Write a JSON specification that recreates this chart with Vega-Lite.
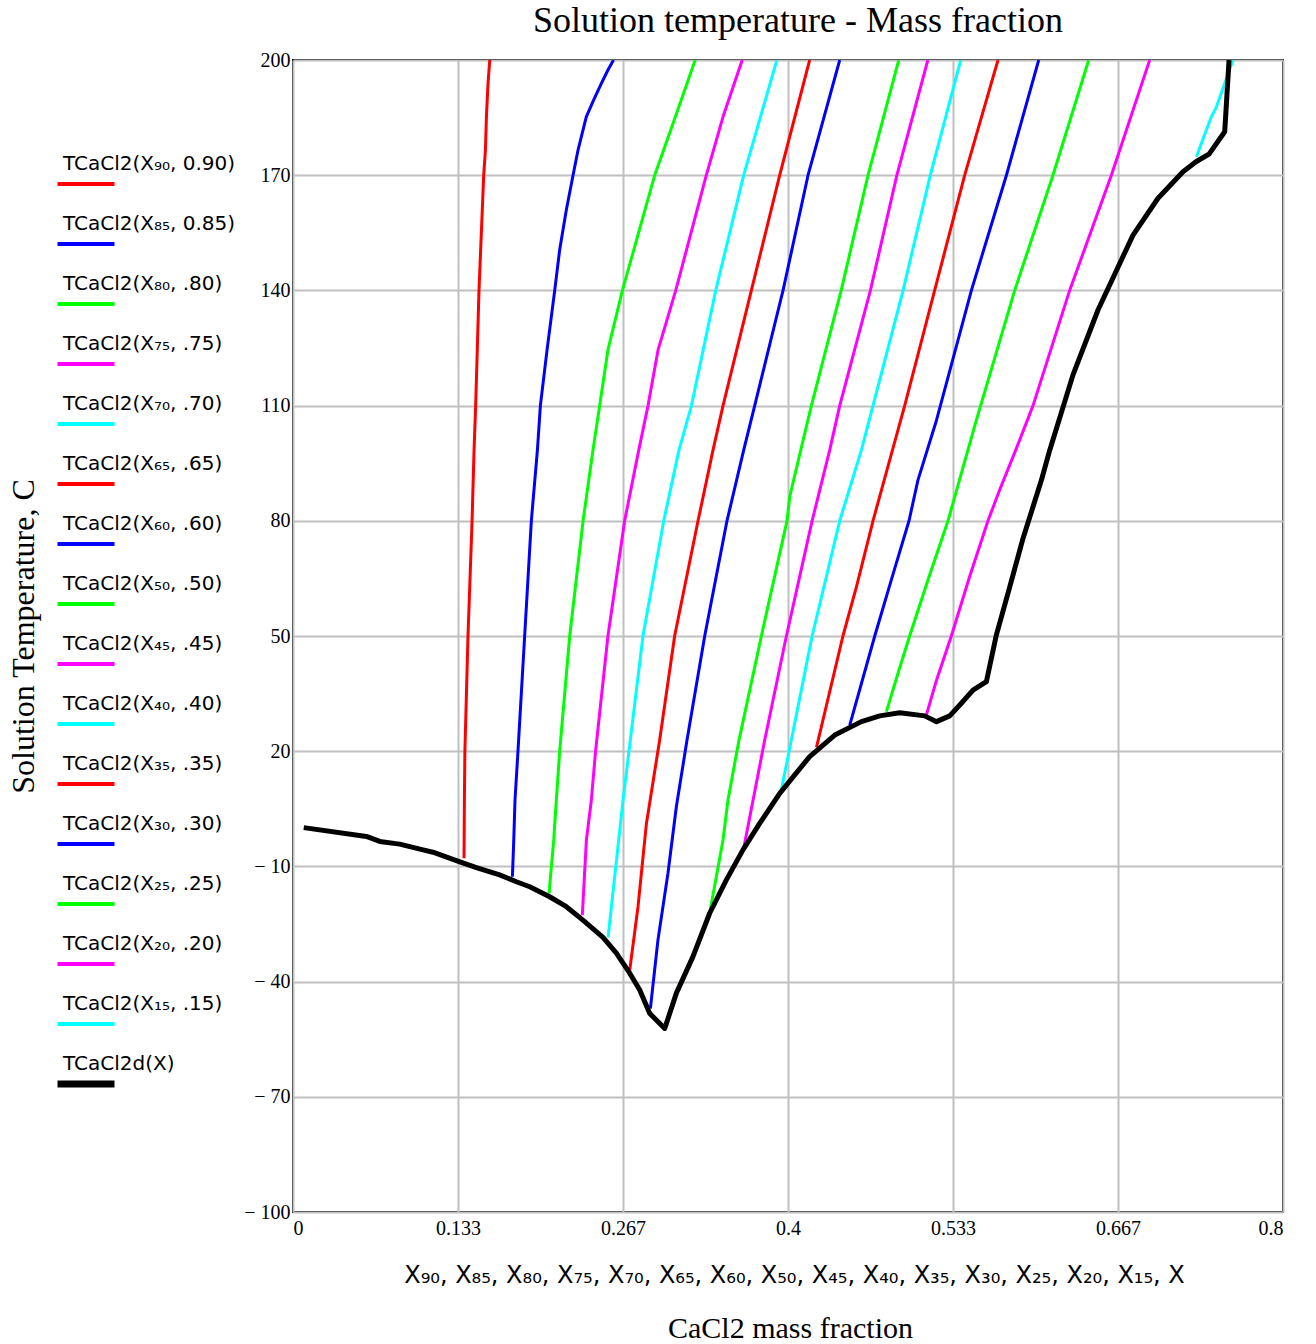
{
  "$schema": "https://vega.github.io/schema/vega-lite/v6.json",
  "width": 990,
  "height": 1152,
  "autosize": {"type": "none"},
  "padding": {"left": 293, "top": 60, "right": 33, "bottom": 132},
  "background": "white",
  "config": {
    "view": {"stroke": "black", "strokeWidth": 2},
    "axis": {"labelOverlap": false}
  },
  "title": {
    "text": "Solution temperature - Mass fraction",
    "font": "Liberation Serif",
    "fontSize": 36,
    "fontWeight": "normal",
    "color": "black",
    "anchor": "middle",
    "frame": "group",
    "baseline": "alphabetic",
    "offset": 29,
    "dx": 10,
    "dy": 47
  },
  "data": {
    "values": [
      {"curve": "TCaCl2(X₉₀, 0.90)", "x": 0.1382, "t": -7.9},
      {"curve": "TCaCl2(X₉₀, 0.90)", "x": 0.1385, "t": 7.3},
      {"curve": "TCaCl2(X₉₀, 0.90)", "x": 0.1389, "t": 20},
      {"curve": "TCaCl2(X₉₀, 0.90)", "x": 0.1414, "t": 50},
      {"curve": "TCaCl2(X₉₀, 0.90)", "x": 0.1447, "t": 80},
      {"curve": "TCaCl2(X₉₀, 0.90)", "x": 0.1463, "t": 98.4},
      {"curve": "TCaCl2(X₉₀, 0.90)", "x": 0.1476, "t": 110},
      {"curve": "TCaCl2(X₉₀, 0.90)", "x": 0.1503, "t": 140},
      {"curve": "TCaCl2(X₉₀, 0.90)", "x": 0.1541, "t": 170},
      {"curve": "TCaCl2(X₉₀, 0.90)", "x": 0.1555, "t": 176.6},
      {"curve": "TCaCl2(X₉₀, 0.90)", "x": 0.1563, "t": 185.2},
      {"curve": "TCaCl2(X₉₀, 0.90)", "x": 0.1576, "t": 193.9},
      {"curve": "TCaCl2(X₉₀, 0.90)", "x": 0.159, "t": 200},

      {"curve": "TCaCl2(X₈₅, 0.85)", "x": 0.1773, "t": -12.7},
      {"curve": "TCaCl2(X₈₅, 0.85)", "x": 0.1784, "t": -3.1},
      {"curve": "TCaCl2(X₈₅, 0.85)", "x": 0.1794, "t": 7.3},
      {"curve": "TCaCl2(X₈₅, 0.85)", "x": 0.1818, "t": 20},
      {"curve": "TCaCl2(X₈₅, 0.85)", "x": 0.1872, "t": 50},
      {"curve": "TCaCl2(X₈₅, 0.85)", "x": 0.1926, "t": 80},
      {"curve": "TCaCl2(X₈₅, 0.85)", "x": 0.1975, "t": 98.4},
      {"curve": "TCaCl2(X₈₅, 0.85)", "x": 0.1999, "t": 110},
      {"curve": "TCaCl2(X₈₅, 0.85)", "x": 0.2053, "t": 124.5},
      {"curve": "TCaCl2(X₈₅, 0.85)", "x": 0.2115, "t": 140},
      {"curve": "TCaCl2(X₈₅, 0.85)", "x": 0.2155, "t": 150.6},
      {"curve": "TCaCl2(X₈₅, 0.85)", "x": 0.2209, "t": 161},
      {"curve": "TCaCl2(X₈₅, 0.85)", "x": 0.2263, "t": 170},
      {"curve": "TCaCl2(X₈₅, 0.85)", "x": 0.2303, "t": 176.5},
      {"curve": "TCaCl2(X₈₅, 0.85)", "x": 0.237, "t": 185.2},
      {"curve": "TCaCl2(X₈₅, 0.85)", "x": 0.243, "t": 189.6},
      {"curve": "TCaCl2(X₈₅, 0.85)", "x": 0.2492, "t": 193.9},
      {"curve": "TCaCl2(X₈₅, 0.85)", "x": 0.2545, "t": 197.4},
      {"curve": "TCaCl2(X₈₅, 0.85)", "x": 0.259, "t": 200},

      {"curve": "TCaCl2(X₈₀, .80)", "x": 0.2069, "t": -17},
      {"curve": "TCaCl2(X₈₀, .80)", "x": 0.2107, "t": -3.1},
      {"curve": "TCaCl2(X₈₀, .80)", "x": 0.2128, "t": 7.3},
      {"curve": "TCaCl2(X₈₀, .80)", "x": 0.2155, "t": 20},
      {"curve": "TCaCl2(X₈₀, .80)", "x": 0.2236, "t": 50},
      {"curve": "TCaCl2(X₈₀, .80)", "x": 0.2344, "t": 80},
      {"curve": "TCaCl2(X₈₀, .80)", "x": 0.2424, "t": 98.4},
      {"curve": "TCaCl2(X₈₀, .80)", "x": 0.2478, "t": 110},
      {"curve": "TCaCl2(X₈₀, .80)", "x": 0.2545, "t": 124.5},
      {"curve": "TCaCl2(X₈₀, .80)", "x": 0.2662, "t": 140},
      {"curve": "TCaCl2(X₈₀, .80)", "x": 0.2923, "t": 170},
      {"curve": "TCaCl2(X₈₀, .80)", "x": 0.309, "t": 185.2},
      {"curve": "TCaCl2(X₈₀, .80)", "x": 0.325, "t": 200},

      {"curve": "TCaCl2(X₇₅, .75)", "x": 0.2338, "t": -22.7},
      {"curve": "TCaCl2(X₇₅, .75)", "x": 0.2371, "t": -3.1},
      {"curve": "TCaCl2(X₇₅, .75)", "x": 0.2411, "t": 7.3},
      {"curve": "TCaCl2(X₇₅, .75)", "x": 0.2445, "t": 20},
      {"curve": "TCaCl2(X₇₅, .75)", "x": 0.2545, "t": 50},
      {"curve": "TCaCl2(X₇₅, .75)", "x": 0.268, "t": 80},
      {"curve": "TCaCl2(X₇₅, .75)", "x": 0.2794, "t": 98.4},
      {"curve": "TCaCl2(X₇₅, .75)", "x": 0.2869, "t": 110},
      {"curve": "TCaCl2(X₇₅, .75)", "x": 0.295, "t": 124.5},
      {"curve": "TCaCl2(X₇₅, .75)", "x": 0.3093, "t": 140},
      {"curve": "TCaCl2(X₇₅, .75)", "x": 0.334, "t": 170},
      {"curve": "TCaCl2(X₇₅, .75)", "x": 0.3475, "t": 185.2},
      {"curve": "TCaCl2(X₇₅, .75)", "x": 0.363, "t": 200},

      {"curve": "TCaCl2(X₇₀, .70)", "x": 0.2546, "t": -28.5},
      {"curve": "TCaCl2(X₇₀, .70)", "x": 0.2632, "t": -3.1},
      {"curve": "TCaCl2(X₇₀, .70)", "x": 0.2667, "t": 7.3},
      {"curve": "TCaCl2(X₇₀, .70)", "x": 0.2726, "t": 22.9},
      {"curve": "TCaCl2(X₇₀, .70)", "x": 0.2828, "t": 50},
      {"curve": "TCaCl2(X₇₀, .70)", "x": 0.2996, "t": 80},
      {"curve": "TCaCl2(X₇₀, .70)", "x": 0.3119, "t": 98.4},
      {"curve": "TCaCl2(X₇₀, .70)", "x": 0.322, "t": 110},
      {"curve": "TCaCl2(X₇₀, .70)", "x": 0.3416, "t": 140},
      {"curve": "TCaCl2(X₇₀, .70)", "x": 0.3642, "t": 170},
      {"curve": "TCaCl2(X₇₀, .70)", "x": 0.391, "t": 200},

      {"curve": "TCaCl2(X₆₅, .65)", "x": 0.2721, "t": -37},
      {"curve": "TCaCl2(X₆₅, .65)", "x": 0.2788, "t": -20.5},
      {"curve": "TCaCl2(X₆₅, .65)", "x": 0.2856, "t": 1.2},
      {"curve": "TCaCl2(X₆₅, .65)", "x": 0.2963, "t": 22.9},
      {"curve": "TCaCl2(X₆₅, .65)", "x": 0.3084, "t": 50},
      {"curve": "TCaCl2(X₆₅, .65)", "x": 0.3273, "t": 80},
      {"curve": "TCaCl2(X₆₅, .65)", "x": 0.3394, "t": 98.4},
      {"curve": "TCaCl2(X₆₅, .65)", "x": 0.3475, "t": 110},
      {"curve": "TCaCl2(X₆₅, .65)", "x": 0.3704, "t": 140},
      {"curve": "TCaCl2(X₆₅, .65)", "x": 0.3933, "t": 170},
      {"curve": "TCaCl2(X₆₅, .65)", "x": 0.4175, "t": 200},

      {"curve": "TCaCl2(X₆₀, .60)", "x": 0.2888, "t": -47},
      {"curve": "TCaCl2(X₆₀, .60)", "x": 0.2949, "t": -29.2},
      {"curve": "TCaCl2(X₆₀, .60)", "x": 0.303, "t": -11.8},
      {"curve": "TCaCl2(X₆₀, .60)", "x": 0.3098, "t": 5.6},
      {"curve": "TCaCl2(X₆₀, .60)", "x": 0.3184, "t": 22.9},
      {"curve": "TCaCl2(X₆₀, .60)", "x": 0.3327, "t": 50},
      {"curve": "TCaCl2(X₆₀, .60)", "x": 0.3507, "t": 80},
      {"curve": "TCaCl2(X₆₀, .60)", "x": 0.3642, "t": 98.4},
      {"curve": "TCaCl2(X₆₀, .60)", "x": 0.3731, "t": 110},
      {"curve": "TCaCl2(X₆₀, .60)", "x": 0.396, "t": 140},
      {"curve": "TCaCl2(X₆₀, .60)", "x": 0.4162, "t": 170},
      {"curve": "TCaCl2(X₆₀, .60)", "x": 0.4418, "t": 200},

      {"curve": "TCaCl2(X₅₀, .50)", "x": 0.3367, "t": -22.2},
      {"curve": "TCaCl2(X₅₀, .50)", "x": 0.3475, "t": -3.1},
      {"curve": "TCaCl2(X₅₀, .50)", "x": 0.3515, "t": 7.3},
      {"curve": "TCaCl2(X₅₀, .50)", "x": 0.3604, "t": 22.9},
      {"curve": "TCaCl2(X₅₀, .50)", "x": 0.3785, "t": 50},
      {"curve": "TCaCl2(X₅₀, .50)", "x": 0.3992, "t": 80},
      {"curve": "TCaCl2(X₅₀, .50)", "x": 0.4014, "t": 86.3},
      {"curve": "TCaCl2(X₅₀, .50)", "x": 0.4103, "t": 98.4},
      {"curve": "TCaCl2(X₅₀, .50)", "x": 0.4189, "t": 110},
      {"curve": "TCaCl2(X₅₀, .50)", "x": 0.443, "t": 140},
      {"curve": "TCaCl2(X₅₀, .50)", "x": 0.4647, "t": 170},
      {"curve": "TCaCl2(X₅₀, .50)", "x": 0.4895, "t": 200},

      {"curve": "TCaCl2(X₄₅, .45)", "x": 0.3642, "t": -5.3},
      {"curve": "TCaCl2(X₄₅, .45)", "x": 0.3812, "t": 22.9},
      {"curve": "TCaCl2(X₄₅, .45)", "x": 0.3987, "t": 50},
      {"curve": "TCaCl2(X₄₅, .45)", "x": 0.4195, "t": 80},
      {"curve": "TCaCl2(X₄₅, .45)", "x": 0.4337, "t": 98.4},
      {"curve": "TCaCl2(X₄₅, .45)", "x": 0.4418, "t": 110},
      {"curve": "TCaCl2(X₄₅, .45)", "x": 0.4666, "t": 140},
      {"curve": "TCaCl2(X₄₅, .45)", "x": 0.488, "t": 170},
      {"curve": "TCaCl2(X₄₅, .45)", "x": 0.513, "t": 200},

      {"curve": "TCaCl2(X₄₀, .40)", "x": 0.3946, "t": 9.9},
      {"curve": "TCaCl2(X₄₀, .40)", "x": 0.4027, "t": 22.9},
      {"curve": "TCaCl2(X₄₀, .40)", "x": 0.4195, "t": 50},
      {"curve": "TCaCl2(X₄₀, .40)", "x": 0.4418, "t": 80},
      {"curve": "TCaCl2(X₄₀, .40)", "x": 0.4593, "t": 98.4},
      {"curve": "TCaCl2(X₄₀, .40)", "x": 0.4687, "t": 110},
      {"curve": "TCaCl2(X₄₀, .40)", "x": 0.493, "t": 140},
      {"curve": "TCaCl2(X₄₀, .40)", "x": 0.515, "t": 170},
      {"curve": "TCaCl2(X₄₀, .40)", "x": 0.5396, "t": 200},

      {"curve": "TCaCl2(X₃₅, .35)", "x": 0.423, "t": 21},
      {"curve": "TCaCl2(X₃₅, .35)", "x": 0.4444, "t": 50},
      {"curve": "TCaCl2(X₃₅, .35)", "x": 0.4553, "t": 62.8},
      {"curve": "TCaCl2(X₃₅, .35)", "x": 0.4687, "t": 80},
      {"curve": "TCaCl2(X₃₅, .35)", "x": 0.4844, "t": 98.4},
      {"curve": "TCaCl2(X₃₅, .35)", "x": 0.4943, "t": 110},
      {"curve": "TCaCl2(X₃₅, .35)", "x": 0.5185, "t": 140},
      {"curve": "TCaCl2(X₃₅, .35)", "x": 0.5428, "t": 170},
      {"curve": "TCaCl2(X₃₅, .35)", "x": 0.5697, "t": 200},

      {"curve": "TCaCl2(X₃₀, .30)", "x": 0.4499, "t": 26.8},
      {"curve": "TCaCl2(X₃₀, .30)", "x": 0.4701, "t": 50},
      {"curve": "TCaCl2(X₃₀, .30)", "x": 0.4835, "t": 64.6},
      {"curve": "TCaCl2(X₃₀, .30)", "x": 0.4978, "t": 80},
      {"curve": "TCaCl2(X₃₀, .30)", "x": 0.505, "t": 90.6},
      {"curve": "TCaCl2(X₃₀, .30)", "x": 0.52, "t": 106.2},
      {"curve": "TCaCl2(X₃₀, .30)", "x": 0.5482, "t": 140},
      {"curve": "TCaCl2(X₃₀, .30)", "x": 0.5765, "t": 170},
      {"curve": "TCaCl2(X₃₀, .30)", "x": 0.6026, "t": 200},

      {"curve": "TCaCl2(X₂₅, .25)", "x": 0.4795, "t": 30.3},
      {"curve": "TCaCl2(X₂₅, .25)", "x": 0.4889, "t": 40.3},
      {"curve": "TCaCl2(X₂₅, .25)", "x": 0.4983, "t": 50},
      {"curve": "TCaCl2(X₂₅, .25)", "x": 0.5131, "t": 64.6},
      {"curve": "TCaCl2(X₂₅, .25)", "x": 0.5293, "t": 80},
      {"curve": "TCaCl2(X₂₅, .25)", "x": 0.5522, "t": 106.2},
      {"curve": "TCaCl2(X₂₅, .25)", "x": 0.5832, "t": 140},
      {"curve": "TCaCl2(X₂₅, .25)", "x": 0.6141, "t": 170},
      {"curve": "TCaCl2(X₂₅, .25)", "x": 0.643, "t": 200},

      {"curve": "TCaCl2(X₂₀, .20)", "x": 0.5118, "t": 29.4},
      {"curve": "TCaCl2(X₂₀, .20)", "x": 0.52, "t": 38.5},
      {"curve": "TCaCl2(X₂₀, .20)", "x": 0.532, "t": 50},
      {"curve": "TCaCl2(X₂₀, .20)", "x": 0.5468, "t": 65.5},
      {"curve": "TCaCl2(X₂₀, .20)", "x": 0.5616, "t": 80},
      {"curve": "TCaCl2(X₂₀, .20)", "x": 0.571, "t": 88},
      {"curve": "TCaCl2(X₂₀, .20)", "x": 0.584, "t": 98.4},
      {"curve": "TCaCl2(X₂₀, .20)", "x": 0.598, "t": 110},
      {"curve": "TCaCl2(X₂₀, .20)", "x": 0.6276, "t": 140},
      {"curve": "TCaCl2(X₂₀, .20)", "x": 0.6613, "t": 170},
      {"curve": "TCaCl2(X₂₀, .20)", "x": 0.6923, "t": 200},

      {"curve": "TCaCl2(X₁₅, .15)", "x": 0.73, "t": 174.8},
      {"curve": "TCaCl2(X₁₅, .15)", "x": 0.7421, "t": 185.2},
      {"curve": "TCaCl2(X₁₅, .15)", "x": 0.7462, "t": 187.8},
      {"curve": "TCaCl2(X₁₅, .15)", "x": 0.7596, "t": 200},

      {"curve": "TCaCl2d(X)", "x": 0.0087, "t": 0.1},
      {"curve": "TCaCl2d(X)", "x": 0.0593, "t": -2.2},
      {"curve": "TCaCl2d(X)", "x": 0.0701, "t": -3.5},
      {"curve": "TCaCl2d(X)", "x": 0.0862, "t": -4.2},
      {"curve": "TCaCl2d(X)", "x": 0.1051, "t": -5.7},
      {"curve": "TCaCl2d(X)", "x": 0.1131, "t": -6.3},
      {"curve": "TCaCl2d(X)", "x": 0.132, "t": -8.5},
      {"curve": "TCaCl2d(X)", "x": 0.1482, "t": -10.3},
      {"curve": "TCaCl2d(X)", "x": 0.167, "t": -12.2},
      {"curve": "TCaCl2d(X)", "x": 0.1805, "t": -14},
      {"curve": "TCaCl2d(X)", "x": 0.1913, "t": -15.3},
      {"curve": "TCaCl2d(X)", "x": 0.2074, "t": -17.9},
      {"curve": "TCaCl2d(X)", "x": 0.2209, "t": -20.5},
      {"curve": "TCaCl2d(X)", "x": 0.2343, "t": -24},
      {"curve": "TCaCl2d(X)", "x": 0.2505, "t": -28.5},
      {"curve": "TCaCl2d(X)", "x": 0.2613, "t": -32.6},
      {"curve": "TCaCl2d(X)", "x": 0.2721, "t": -37.8},
      {"curve": "TCaCl2d(X)", "x": 0.2802, "t": -42.2},
      {"curve": "TCaCl2d(X)", "x": 0.2883, "t": -48.3},
      {"curve": "TCaCl2d(X)", "x": 0.3004, "t": -52.2},
      {"curve": "TCaCl2d(X)", "x": 0.3098, "t": -43.0},
      {"curve": "TCaCl2d(X)", "x": 0.3232, "t": -33.5},
      {"curve": "TCaCl2d(X)", "x": 0.3367, "t": -22.2},
      {"curve": "TCaCl2d(X)", "x": 0.3502, "t": -13.5},
      {"curve": "TCaCl2d(X)", "x": 0.3636, "t": -5.7},
      {"curve": "TCaCl2d(X)", "x": 0.3771, "t": 1.2},
      {"curve": "TCaCl2d(X)", "x": 0.3933, "t": 9.0},
      {"curve": "TCaCl2d(X)", "x": 0.4175, "t": 18.6},
      {"curve": "TCaCl2d(X)", "x": 0.4378, "t": 24.2},
      {"curve": "TCaCl2d(X)", "x": 0.4593, "t": 27.7},
      {"curve": "TCaCl2d(X)", "x": 0.4741, "t": 29.2},
      {"curve": "TCaCl2d(X)", "x": 0.4903, "t": 30.0},
      {"curve": "TCaCl2d(X)", "x": 0.5105, "t": 29.2},
      {"curve": "TCaCl2d(X)", "x": 0.52, "t": 27.7},
      {"curve": "TCaCl2d(X)", "x": 0.5307, "t": 29.2},
      {"curve": "TCaCl2d(X)", "x": 0.5401, "t": 32.5},
      {"curve": "TCaCl2d(X)", "x": 0.5495, "t": 35.9},
      {"curve": "TCaCl2d(X)", "x": 0.5603, "t": 38.1},
      {"curve": "TCaCl2d(X)", "x": 0.5684, "t": 50.3},
      {"curve": "TCaCl2d(X)", "x": 0.5792, "t": 62.8},
      {"curve": "TCaCl2d(X)", "x": 0.5899, "t": 75.4},
      {"curve": "TCaCl2d(X)", "x": 0.6048, "t": 90.6},
      {"curve": "TCaCl2d(X)", "x": 0.6115, "t": 98.4},
      {"curve": "TCaCl2d(X)", "x": 0.6303, "t": 118},
      {"curve": "TCaCl2d(X)", "x": 0.6505, "t": 134.9},
      {"curve": "TCaCl2d(X)", "x": 0.6788, "t": 154.4},
      {"curve": "TCaCl2d(X)", "x": 0.699, "t": 164},
      {"curve": "TCaCl2d(X)", "x": 0.7192, "t": 170.9},
      {"curve": "TCaCl2d(X)", "x": 0.7297, "t": 173.5},
      {"curve": "TCaCl2d(X)", "x": 0.7402, "t": 175.5},
      {"curve": "TCaCl2d(X)", "x": 0.7529, "t": 181.3},
      {"curve": "TCaCl2d(X)", "x": 0.7564, "t": 200}
    ]
  },
  "layer": [
    {
      "mark": {"type": "line", "strokeJoin": "round", "clip": true},
      "encoding": {
        "x": {
          "field": "x",
          "type": "quantitative",
          "scale": {"domain": [0, 0.8], "nice": false, "zero": false},
          "axis": {
            "values": [0, 0.133333, 0.266667, 0.4, 0.533333, 0.666667, 0.8],
            "format": ".3~f",
            "labelFont": "Liberation Serif",
            "labelFontSize": 20,
            "labelColor": "black",
            "labelPadding": 6,
            "ticks": false,
            "domain": false,
            "grid": true,
            "gridColor": "#c0c0c0",
            "gridWidth": 2,
            "title": "X₉₀, X₈₅, X₈₀, X₇₅, X₇₀, X₆₅, X₆₀, X₅₀, X₄₅, X₄₀, X₃₅, X₃₀, X₂₅, X₂₀, X₁₅, X",
            "titleFont": "DejaVu Sans",
            "titleFontSize": 24,
            "titleFontWeight": "normal",
            "titleColor": "black",
            "titleX": 501,
            "titleY": 63,
            "titleAlign": "center",
            "titleBaseline": "middle"
          }
        },
        "y": {
          "field": "t",
          "type": "quantitative",
          "scale": {"domain": [-100, 200], "nice": false, "zero": false},
          "axis": {
            "values": [-100, -70, -40, -10, 20, 50, 80, 110, 140, 170, 200],
            "labelExpr": "datum.value < 0 ? '− ' + (-datum.value) : datum.label",
            "labelFont": "Liberation Serif",
            "labelFontSize": 20,
            "labelColor": "black",
            "labelPadding": 3,
            "ticks": false,
            "domain": false,
            "grid": true,
            "gridColor": "#c0c0c0",
            "gridWidth": 2,
            "title": "Solution Temperature, C",
            "titleFont": "Liberation Serif",
            "titleFontSize": 32,
            "titleFontWeight": "normal",
            "titleColor": "black",
            "titleX": -260,
            "titleY": 576,
            "titleAngle": -90,
            "titleAlign": "center",
            "titleBaseline": "alphabetic"
          }
        },
        "color": {
          "field": "curve",
          "type": "nominal",
          "scale": {
            "domain": [
              "TCaCl2(X₉₀, 0.90)", "TCaCl2(X₈₅, 0.85)", "TCaCl2(X₈₀, .80)", "TCaCl2(X₇₅, .75)",
              "TCaCl2(X₇₀, .70)", "TCaCl2(X₆₅, .65)", "TCaCl2(X₆₀, .60)", "TCaCl2(X₅₀, .50)",
              "TCaCl2(X₄₅, .45)", "TCaCl2(X₄₀, .40)", "TCaCl2(X₃₅, .35)", "TCaCl2(X₃₀, .30)",
              "TCaCl2(X₂₅, .25)", "TCaCl2(X₂₀, .20)", "TCaCl2(X₁₅, .15)", "TCaCl2d(X)"
            ],
            "range": [
              "#ff0000", "#0000ff", "#00ff00", "#ff00ff", "#00ffff",
              "#ff0000", "#0000ff", "#00ff00", "#ff00ff", "#00ffff",
              "#ff0000", "#0000ff", "#00ff00", "#ff00ff", "#00ffff",
              "#000000"
            ]
          },
          "legend": {
            "orient": "none",
            "legendX": -217,
            "legendY": 114,
            "title": null,
            "symbolType": "stroke",
            "symbolSize": 3249,
            "symbolStrokeWidth": 4,
            "labelFont": "DejaVu Sans",
            "labelFontSize": 20,
            "labelColor": "black",
            "labelBaseline": "bottom",
            "labelOffset": -33,
            "labelLimit": 400,
            "rowPadding": 22,
            "encode": {
              "symbols": {
                "update": {
                  "strokeWidth": {"signal": "datum.value == 'TCaCl2d(X)' ? 7 : 4"}
                }
              },
              "labels": {
                "update": {
                  "dy": {"value": -10}
                }
              }
            }
          }
        },
        "strokeWidth": {
          "condition": {"test": "datum.curve == 'TCaCl2d(X)'", "value": 5},
          "value": 3
        }
      }
    },
    {
      "mark": {"type": "point", "opacity": 0},
      "encoding": {
        "x": {
          "field": "x",
          "type": "quantitative",
          "axis": {
            "orient": "bottom",
            "labels": false,
            "ticks": false,
            "domain": false,
            "grid": false,
            "title": "CaCl2 mass fraction",
            "titleFont": "Liberation Serif",
            "titleFontSize": 30,
            "titleFontWeight": "normal",
            "titleColor": "black",
            "titleX": 497,
            "titleY": 116,
            "titleAlign": "center",
            "titleBaseline": "middle"
          }
        },
        "y": {"field": "t", "type": "quantitative"}
      }
    }
  ],
  "resolve": {"axis": {"x": "independent"}}
}
